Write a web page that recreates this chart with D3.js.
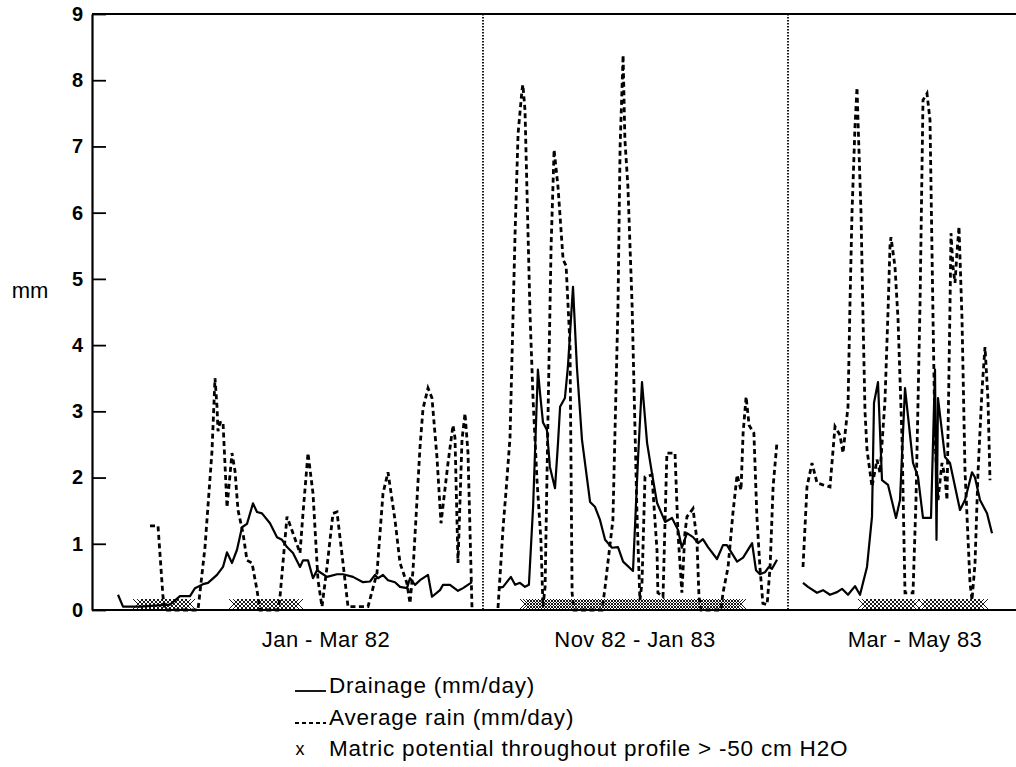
<!DOCTYPE html>
<html>
<head>
<meta charset="utf-8">
<title>Drainage and rain</title>
<script src="https://cdn.jsdelivr.net/npm/d3@7"></script>
<style>
  html, body { margin: 0; padding: 0; background: #fff; }
  svg text { font-family: "Liberation Sans", Arial, Helvetica, sans-serif; fill: #000; }
</style>
</head>
<body>
<div id="chart"></div>
<script>
// three measuring periods, drawn side by side
var periods = ["Jan - Mar 82", "Nov 82 - Jan 83", "Mar - May 83"];
var periodDays = [89, 93, 95];
var yTicks = [0, 1, 2, 3, 4, 5, 6, 7, 8, 9];

// [day of period, mm/day]
var drainage1 = [[0,0.23],[1.25,0.05],[5.5,0.05],[13,0.08],[15.5,0.21],[18,0.21],[19.25,0.33],[21.25,0.39],[22.5,0.41],[24.75,0.53],[26.25,0.65],[27.25,0.87],[28.5,0.71],[29.75,0.91],[31,1.25],[32.25,1.3],[33.75,1.61],[34.75,1.48],[36,1.46],[38,1.31],[39.75,1.1],[41,1.06],[42.25,0.95],[43.75,0.86],[45.5,0.65],[46.25,0.75],[47.5,0.75],[48.75,0.48],[49.75,0.6],[52.25,0.5],[54.75,0.54],[56.25,0.54],[58.75,0.5],[61.25,0.42],[63,0.43],[64.25,0.53],[65,0.48],[66.25,0.53],[67.5,0.45],[69.25,0.42],[70.5,0.35],[72.25,0.33],[73,0.48],[74.25,0.38],[75.5,0.45],[77.5,0.53],[78.5,0.2],[80.5,0.3],[81.25,0.38],[83,0.38],[85,0.29],[86.25,0.33],[88.5,0.42]];
var rain1 = [[8,1.27],[10,1.27],[11.25,0.2],[11.75,0],[20,0],[21.75,0.95],[23.5,2.4],[24.25,3.5],[24.75,3.07],[25,2.7],[25.5,2.83],[26.25,2.84],[27.25,1.55],[28.5,2.37],[29.25,2.1],[30,1.51],[31.25,1.16],[32.25,0.75],[33.5,0.71],[34.75,0.3],[35.5,0],[40,0],[40.5,0.2],[42.25,1.41],[43.75,1.16],[45.5,0.86],[46.25,1.46],[47.5,2.37],[48.75,1.76],[50,0.45],[51,0.05],[52.25,0.65],[53.75,1.46],[54.75,1.48],[56.25,0.71],[57.5,0.05],[62.5,0.05],[64.75,0.56],[66.25,1.76],[67.5,2.08],[69.25,1.36],[70.5,0.71],[72.25,0.4],[73,0.1],[73.75,0.6],[75.5,2.46],[76.25,3.04],[77.5,3.35],[78.5,3.2],[79.75,2.3],[80.75,1.31],[81.5,1.7],[82.5,2.22],[83.75,2.79],[84.25,2.6],[85,0.71],[86,2.57],[86.75,2.97],[87.5,2.37],[88.5,0.03]];

var drainage2 = [[0,0.33],[1.7,0.35],[4.3,0.5],[5.7,0.38],[7.3,0.41],[9,0.35],[10.3,0.38],[11.7,1.56],[13.3,3.63],[14,3.28],[15,2.83],[16.3,2.72],[17.3,2.16],[19,1.84],[20,2.52],[20.7,3.07],[22.3,3.2],[23.3,3.67],[25,4.88],[26.3,3.67],[28,2.57],[30.7,1.63],[32.3,1.56],[34,1.36],[35.7,1.06],[38,0.94],[40,0.95],[41.7,0.73],[45,0.59],[46.7,2.31],[48,3.44],[49.7,2.52],[51.3,2.07],[53,1.62],[55.7,1.33],[58,1.39],[60,1.21],[61.3,0.94],[63,1.16],[65,1.1],[66.7,1.01],[68.3,1.07],[70,0.95],[73,0.77],[75,0.98],[76.3,0.98],[79.7,0.73],[81.7,0.79],[84.7,1.01],[86,0.6],[87.3,0.54],[89,0.57],[90.3,0.65],[91.3,0.62],[93,0.76]];
var rain2 = [[0,0.03],[1.7,1.25],[2.7,1.81],[4,2.6],[5.7,5.7],[6.7,7.2],[8,7.85],[8.3,7.93],[9,7.55],[10,5.7],[10.7,4.43],[11.7,3.17],[13,1.96],[14.3,1.06],[15,0.05],[15.7,0.35],[16.7,3.0],[17.7,5.5],[18.7,6.95],[20,6.39],[21.7,5.29],[22.7,5.2],[24,4.0],[24.7,0.26],[25.3,0],[34.7,0],[35.7,0.35],[38.3,1.36],[40,4.6],[40.7,7.0],[41.7,8.38],[42.3,7.1],[43.3,6.4],[44.7,4.6],[46.3,1.5],[47.3,0.15],[48,0.41],[49,2.01],[51.3,2.04],[53,0.9],[53.3,0.26],[55,0.2],[56.3,2.37],[59,2.37],[60,1.16],[61.3,0.26],[62.3,1.16],[63,1.41],[65,1.53],[66.3,1.06],[67,0.2],[67.7,0],[74.3,0],[75,0.26],[76.7,0.65],[78.3,1.46],[79.7,2.04],[81,1.81],[81.7,2.67],[82.7,3.22],[83.7,2.79],[85.3,2.67],[86.3,1.41],[87.3,0.65],[88.3,0.1],[89.7,0.08],[90.7,0.65],[91.7,1.86],[93,2.54]];

var drainage3 = [[0,0.41],[2.5,0.35],[7,0.26],[10,0.3],[13.5,0.23],[17,0.27],[19.5,0.32],[22.5,0.23],[26,0.36],[28.5,0.23],[32,0.65],[34.5,1.41],[35.5,3.13],[37.5,3.44],[39.5,1.96],[42.5,1.89],[46.5,1.39],[48.5,1.66],[51,3.35],[55,2.22],[57.5,2.01],[60,1.39],[64,1.39],[66,3.63],[66.75,1.06],[67.5,3.2],[71,2.31],[73.5,2.22],[78.5,1.51],[81,1.66],[84.5,2.08],[86,2.0],[88.5,1.66],[92,1.46],[94.5,1.16]];
var rain3 = [[0,0.65],[2,1.86],[4.5,2.22],[7,1.92],[10,1.89],[13.5,1.86],[16,2.77],[18.5,2.64],[20,2.37],[22.5,3.07],[23.5,4.64],[24.5,6.0],[26,7.3],[27,7.89],[27.5,7.4],[29,6.0],[30,4.43],[31,3.0],[32,2.42],[34.5,1.86],[37,2.27],[38.5,2.07],[41,3.17],[42.5,4.5],[43.5,5.5],[44,5.63],[46,5.18],[47.5,4.4],[49.5,2.6],[51,0.26],[55,0.26],[56.5,1.66],[58.5,4.6],[60,7.7],[62,7.8],[63.5,7.4],[65,4.43],[66,2.6],[67.5,1.66],[69.5,2.22],[71,2.01],[72,1.66],[73.5,4.6],[74,5.69],[75,5.18],[76,4.94],[77,5.4],[78,5.79],[79.5,4.4],[81,2.1],[83.5,0.41],[84.5,0.15],[86,0.7],[87.5,2.07],[89.5,3.32],[91,3.97],[92.5,3.17],[93.5,1.96]];

// day ranges where matric potential throughout profile > -50 cm H2O
var wet1 = [[5,18],[29,45]];
var wet2 = [[9,81]];
var wet3 = [[30,57],[60,90]];

var drainage = [drainage1, drainage2, drainage3];
var rain = [rain1, rain2, rain3];
var wet = [wet1, wet2, wet3];

var W = 1016, H = 767;
var plotLeft = 92, plotTop = 14, plotBottom = 610;
var panelRange = [[118, 474], [498, 777], [803, 993]];
var dividers = [483, 788];
var labelX = [326, 635, 915];

var svg = d3.select("#chart").append("svg").attr("width", W).attr("height", H);
var y = d3.scaleLinear().domain([0, 9]).range([plotBottom, plotTop]);

// frame
svg.append("line").attr("x1", plotLeft).attr("x2", W).attr("y1", plotTop).attr("y2", plotTop)
  .attr("stroke", "#000").attr("stroke-width", 2);
svg.append("line").attr("x1", plotLeft).attr("x2", W).attr("y1", plotBottom).attr("y2", plotBottom)
  .attr("stroke", "#000").attr("stroke-width", 2);
dividers.forEach(function(dx) {
  svg.append("line").attr("x1", dx).attr("x2", dx).attr("y1", plotTop).attr("y2", plotBottom)
    .attr("stroke", "#000").attr("stroke-width", 1.8).attr("stroke-dasharray", "1.5,1.5");
});

var yAxis = svg.append("g").attr("transform", "translate(" + plotLeft + ",0)")
  .call(d3.axisLeft(y).tickValues(yTicks).tickFormat(d3.format("d")).tickSizeInner(-14).tickSizeOuter(0).tickPadding(9));
yAxis.select(".domain").attr("stroke-width", 2.2);
yAxis.selectAll(".tick line").attr("stroke-width", 1.8);
yAxis.selectAll("text").style("font-size", "20px").style("font-weight", "bold").attr("fill", "#000");

svg.append("text").attr("x", 30).attr("y", 298).attr("text-anchor", "middle")
  .style("font-size", "22px").text("mm");

periods.forEach(function(name, i) {
  var x = d3.scaleLinear().domain([0, periodDays[i]]).range(panelRange[i]);
  var line = d3.line().x(function(d) { return x(d[0]); }).y(function(d) { return y(d[1]); });

  // crosses for wet days (thinned where days are packed tight)
  var pxPerDay = (panelRange[i][1] - panelRange[i][0]) / periodDays[i];
  var step = pxPerDay < 2.5 ? 2 : 1;
  var days = [];
  wet[i].forEach(function(r) { days = days.concat(d3.range(r[0], r[1] + 1, step)); });
  svg.append("g").selectAll("path").data(days).enter().append("path")
    .attr("d", function(d) {
      var cx = x(d), cy = 604;
      return "M" + (cx - 5) + "," + (cy - 5) + "L" + (cx + 5) + "," + (cy + 5) +
             "M" + (cx - 5) + "," + (cy + 5) + "L" + (cx + 5) + "," + (cy - 5);
    })
    .attr("stroke", "#000").attr("stroke-width", 0.9).attr("fill", "none");

  svg.append("path").datum(rain[i]).attr("d", line)
    .attr("fill", "none").attr("stroke", "#000").attr("stroke-width", 2.8)
    .attr("stroke-dasharray", "5,3.5");
  svg.append("path").datum(drainage[i]).attr("d", line)
    .attr("fill", "none").attr("stroke", "#000").attr("stroke-width", 2.2)
    .attr("stroke-linejoin", "round");

  svg.append("text").attr("x", labelX[i]).attr("y", 647).attr("text-anchor", "middle")
    .style("font-size", "22px").style("letter-spacing", "0.4px").text(name);
});

// legend
var lg = svg.append("g");
lg.append("line").attr("x1", 295).attr("x2", 326).attr("y1", 691).attr("y2", 691)
  .attr("stroke", "#000").attr("stroke-width", 1.8);
lg.append("text").attr("x", 329).attr("y", 693).style("font-size", "22.5px").style("letter-spacing", "0.8px")
  .text("Drainage (mm/day)");
lg.append("line").attr("x1", 295).attr("x2", 326).attr("y1", 723).attr("y2", 723)
  .attr("stroke", "#000").attr("stroke-width", 1.8).attr("stroke-dasharray", "4,3");
lg.append("text").attr("x", 329).attr("y", 725).style("font-size", "22.5px").style("letter-spacing", "0.8px")
  .text("Average rain (mm/day)");
lg.append("text").attr("x", 300).attr("y", 755).attr("text-anchor", "middle").style("font-size", "18px")
  .text("x");
lg.append("text").attr("x", 329).attr("y", 756).style("font-size", "22.5px").style("letter-spacing", "0.8px")
  .text("Matric potential throughout profile > -50 cm H2O");
</script>
</body>
</html>
